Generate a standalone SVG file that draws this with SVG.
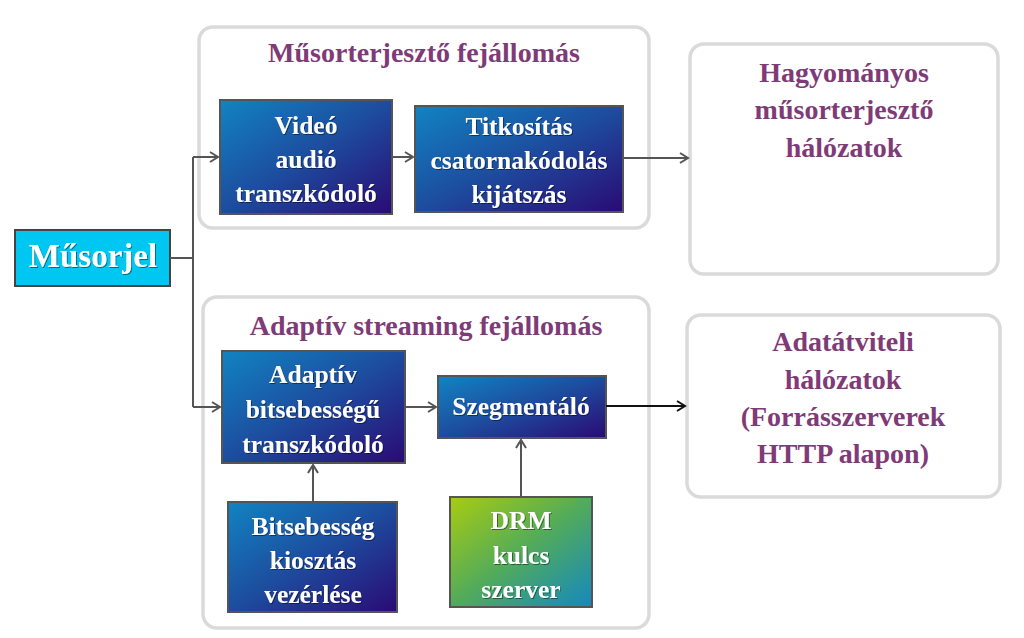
<svg xmlns="http://www.w3.org/2000/svg" width="1024" height="638" viewBox="0 0 1024 638">
<defs>
<linearGradient id="gBlue" x1="0" y1="0" x2="1" y2="1">
<stop offset="0" stop-color="#1184c2"/>
<stop offset="0.5" stop-color="#1d4c9e"/>
<stop offset="1" stop-color="#2a0a74"/>
</linearGradient>
<linearGradient id="gGreen" x1="0" y1="0" x2="1" y2="1">
<stop offset="0" stop-color="#a8cc10"/>
<stop offset="0.5" stop-color="#52ab5a"/>
<stop offset="1" stop-color="#1488c0"/>
</linearGradient>
<marker id="arr" markerWidth="12" markerHeight="12" refX="10" refY="6" orient="auto" markerUnits="userSpaceOnUse">
<path d="M2,1 L10,6 L2,11" fill="none" stroke="#555" stroke-width="2"/>
</marker>
<marker id="arrK" markerWidth="12" markerHeight="12" refX="10" refY="6" orient="auto" markerUnits="userSpaceOnUse">
<path d="M2,1 L10,6 L2,11" fill="none" stroke="#111" stroke-width="2"/>
</marker>
<filter id="sh" x="-10%" y="-10%" width="120%" height="130%">
<feDropShadow dx="1" dy="1" stdDeviation="0.6" flood-color="#000" flood-opacity="0.45"/>
</filter>
</defs>
<style>
.cont{fill:#fff;stroke:#dadada;stroke-width:3.5}
.node{stroke:#555;stroke-width:2}
.t{font-weight:bold;text-anchor:middle}
.w{fill:#fff;font-size:25.5px}
.p{fill:#7e3b78;font-size:28px}
.c{fill:none;stroke:#555;stroke-width:2}
</style>
<rect width="1024" height="638" fill="#fff"/>
<g font-family="'Liberation Serif', 'Times New Roman', 'DejaVu Serif', serif">
<g id="broadcast-head">
<rect class="cont" x="199" y="27" width="450" height="201" rx="14"/>
<text class="t p" x="424" y="62">Műsorterjesztő fejállomás</text>
</g>
<g id="streaming-head">
<rect class="cont" x="203" y="297" width="446" height="331" rx="14"/>
<text class="t p" x="426" y="335">Adaptív streaming fejállomás</text>
</g>
<g id="traditional-net">
<rect class="cont" x="690" y="44" width="308" height="230" rx="14"/>
<text class="t p" x="844" y="82">Hagyományos</text>
<text class="t p" x="844" y="119">műsorterjesztő</text>
<text class="t p" x="844" y="157">hálózatok</text>
</g>
<g id="data-net">
<rect class="cont" x="687" y="315" width="313" height="182" rx="14"/>
<text class="t p" x="843" y="351">Adatátviteli</text>
<text class="t p" x="843" y="389">hálózatok</text>
<text class="t p" x="843" y="426">(Forrásszerverek</text>
<text class="t p" x="843" y="463">HTTP alapon)</text>
</g>

<g id="musorjel">
<rect x="15" y="230" width="155" height="56" fill="#00c6f2" stroke="#444" stroke-width="2"/>
<text class="t" x="93" y="267" fill="#fff" font-size="33" filter="url(#sh)">Műsorjel</text>
</g>
<g id="video-transcoder">
<rect class="node" x="220" y="100" width="172" height="114" fill="url(#gBlue)"/>
<g class="t w" filter="url(#sh)">
<text x="306" y="134">Videó</text>
<text x="306" y="168">audió</text>
<text x="306" y="202">transzkódoló</text>
</g>
</g>
<g id="encryption">
<rect class="node" x="415" y="106" width="208" height="106" fill="url(#gBlue)"/>
<g class="t w" filter="url(#sh)">
<text x="519" y="135">Titkosítás</text>
<text x="519" y="169">csatornakódolás</text>
<text x="519" y="203">kijátszás</text>
</g>
</g>
<g id="abr-transcoder">
<rect class="node" x="222" y="351" width="183" height="112" fill="url(#gBlue)"/>
<g class="t w" filter="url(#sh)">
<text x="313" y="383">Adaptív</text>
<text x="313" y="418">bitsebességű</text>
<text x="313" y="453">transzkódoló</text>
</g>
</g>
<g id="segmenter">
<rect class="node" x="438" y="376" width="168" height="62" fill="url(#gBlue)"/>
<text class="t w" x="521" y="415" filter="url(#sh)">Szegmentáló</text>
</g>
<g id="bitrate-control">
<rect class="node" x="228" y="502" width="169" height="110" fill="url(#gBlue)"/>
<g class="t w" filter="url(#sh)">
<text x="313" y="535">Bitsebesség</text>
<text x="313" y="569">kiosztás</text>
<text x="313" y="603">vezérlése</text>
</g>
</g>
<g id="drm-server">
<rect class="node" x="450" y="497" width="142" height="110" fill="url(#gGreen)"/>
<g class="t w" filter="url(#sh)">
<text x="521" y="529">DRM</text>
<text x="521" y="564">kulcs</text>
<text x="521" y="598">szerver</text>
</g>
</g>
</g>
<g id="connectors">
<path class="c" d="M170,258 H193 V157"/>
<path class="c" d="M193,258 V407"/>
<path class="c" d="M193,157 H218" marker-end="url(#arr)"/>
<path class="c" d="M193,407 H220" marker-end="url(#arr)"/>
<path class="c" d="M392,157 H413" marker-end="url(#arr)"/>
<path class="c" d="M623,158 H688" marker-end="url(#arr)"/>
<path class="c" d="M405,407 H436" marker-end="url(#arr)"/>
<path d="M606,406 H685" fill="none" stroke="#111" stroke-width="2" marker-end="url(#arrK)"/>
<path class="c" d="M313,502 V465" marker-end="url(#arr)"/>
<path class="c" d="M521,497 V440" marker-end="url(#arr)"/>
</g>
</svg>
